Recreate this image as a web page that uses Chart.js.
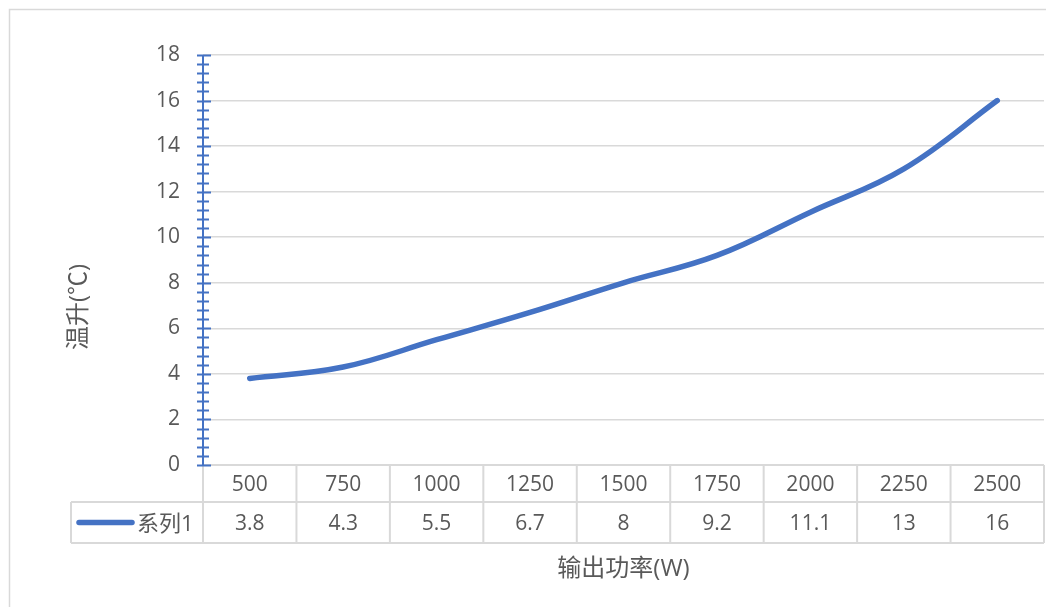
<!DOCTYPE html>
<html>
<head>
<meta charset="utf-8">
<script src="https://cdn.jsdelivr.net/npm/chart.js@4"></script>
<style>
  html, body { margin: 0; padding: 0; background: #ffffff; }
  canvas { display: block; }
</style>
</head>
<body>
<canvas id="c" width="1046" height="607"></canvas>
<script>
const categories = ['500', '750', '1000', '1250', '1500', '1750', '2000', '2250', '2500'];
const values = [3.8, 4.3, 5.5, 6.7, 8, 9.2, 11.1, 13, 16];
const seriesName = '系列1';
const xTitle = '输出功率(W)';
const yTitle = '温升(℃)';
const yMin = 0, yMax = 18, yStep = 2, yMinorStep = 0.4;

const FONT = '"Open Sans", "Noto Sans CJK SC", sans-serif';
const TEXT = '#595959';
const GRID = '#d9d9d9';
const BLUE = '#4472C4';

const extras = {
  id: 'extras',
  beforeDraw(chart) {
    const ctx = chart.ctx;
    ctx.save();
    ctx.fillStyle = '#ffffff';
    ctx.fillRect(0, 0, chart.width, chart.height);
    ctx.strokeStyle = GRID;
    ctx.lineWidth = 1.5;
    ctx.strokeRect(9.5, 9.5, chart.width + 10, chart.height + 10);
    ctx.restore();
  },
  afterDatasetsDraw(chart) {
    const ctx = chart.ctx;
    const ca = chart.chartArea;
    const xs = chart.scales.x;
    const ys = chart.scales.y;
    ctx.save();
    // data table
    const n = categories.length;
    const colW = (ca.right - ca.left) / n;
    const r1 = ca.bottom, r2 = ca.bottom + 37, r3 = ca.bottom + 78;
    const legL = 71;
    ctx.strokeStyle = GRID;
    ctx.lineWidth = 2;
    ctx.beginPath();
    ctx.moveTo(ca.left, r1); ctx.lineTo(ca.right, r1);
    ctx.moveTo(legL, r2); ctx.lineTo(ca.right, r2);
    ctx.moveTo(legL, r3); ctx.lineTo(ca.right, r3);
    for (let i = 0; i <= n; i++) {
      const xx = ca.left + i * colW;
      ctx.moveTo(xx, r1); ctx.lineTo(xx, r3);
    }
    ctx.moveTo(legL, r2); ctx.lineTo(legL, r3);
    ctx.stroke();

    ctx.fillStyle = TEXT;
    ctx.font = '21px ' + FONT;
    ctx.textAlign = 'center';
    ctx.textBaseline = 'middle';
    for (let i = 0; i < n; i++) {
      const px = xs.getPixelForValue(i);
      ctx.fillText(categories[i], px, (r1 + r2) / 2 + 2);
      ctx.fillText(String(values[i]), px, (r2 + r3) / 2 + 2);
    }
    // legend key
    ctx.strokeStyle = BLUE;
    ctx.lineWidth = 5.5;
    ctx.lineCap = 'round';
    ctx.beginPath();
    ctx.moveTo(79, (r2 + r3) / 2);
    ctx.lineTo(132, (r2 + r3) / 2);
    ctx.stroke();
    ctx.textAlign = 'left';
    ctx.font = '22px ' + FONT;
    ctx.fillText(seriesName, 137, (r2 + r3) / 2 + 2);

    // y axis line with major/minor ticks
    ctx.lineCap = 'butt';
    ctx.strokeStyle = BLUE;
    ctx.lineWidth = 2;
    ctx.beginPath();
    ctx.moveTo(ca.left, ys.getPixelForValue(yMax));
    ctx.lineTo(ca.left, ys.getPixelForValue(yMin));
    const count = Math.round((yMax - yMin) / yMinorStep);
    const per = Math.round(yStep / yMinorStep);
    for (let i = 0; i <= count; i++) {
      const py = Math.round(ys.getPixelForValue(yMin + i * yMinorStep)) + 0.5;
      const major = i % per === 0;
      ctx.moveTo(ca.left - 6, py);
      ctx.lineTo(ca.left + (major ? 8 : 6), py);
    }
    ctx.stroke();

    // titles
    ctx.fillStyle = TEXT;
    ctx.font = '24px ' + FONT;
    ctx.textAlign = 'center';
    ctx.textBaseline = 'middle';
    ctx.fillText(xTitle, (ca.left + ca.right) / 2, 569);
    ctx.translate(79, 307);
    ctx.rotate(-Math.PI / 2);
    ctx.fillText(yTitle, 0, 0);
    ctx.restore();
  }
};

new Chart(document.getElementById('c'), {
  type: 'line',
  data: {
    labels: categories,
    datasets: [{
      label: seriesName,
      data: values,
      borderColor: BLUE,
      backgroundColor: BLUE,
      borderWidth: 5.5,
      borderCapStyle: 'round',
      borderJoinStyle: 'round',
      pointRadius: 0,
      tension: 0.4,
      fill: false
    }]
  },
  options: {
    responsive: false,
    animation: false,
    devicePixelRatio: 1,
    layout: { padding: { top: 55, right: 2, bottom: 142, left: 0 } },
    plugins: { legend: { display: false }, tooltip: { enabled: false }, title: { display: false } },
    scales: {
      x: { display: false, offset: true },
      y: {
        min: yMin, max: yMax,
        ticks: { stepSize: yStep, color: TEXT, font: { size: 21, family: FONT }, padding: 23 },
        grid: { color: GRID, lineWidth: 1.5, drawTicks: false },
        border: { display: false },
        afterFit(scale) { scale.width = 203; }
      }
    }
  },
  plugins: [extras]
});
</script>
</body>
</html>
